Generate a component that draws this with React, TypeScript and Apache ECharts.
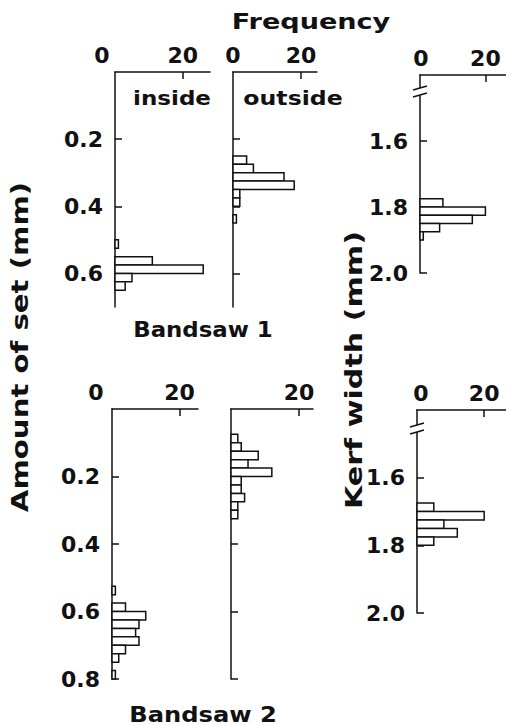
import React, { useEffect, useRef } from "react";
import * as echarts from "echarts";

// ---- data ----
const BIN_WIDTH = 0.025; // mm, histogram class width
const FREQ_TICK_LABELS = [0, 20];
const SET_TICKS_BANDSAW1 = [0.2, 0.4, 0.6];
const SET_TICKS_BANDSAW2 = [0.2, 0.4, 0.6, 0.8];
const KERF_TICKS = [1.6, 1.8, 2.0];

// Bandsaw 1 – amount of set, inside
const b1InsideBins = [0.5, 0.55, 0.575, 0.6, 0.625];
const b1InsideFreq = [1, 11, 26, 5, 3];
// Bandsaw 1 – amount of set, outside
const b1OutsideBins = [0.25, 0.275, 0.3, 0.325, 0.35, 0.375, 0.425];
const b1OutsideFreq = [4, 6, 15, 18, 2, 2, 1];
// Bandsaw 1 – kerf width
const b1KerfBins = [1.775, 1.8, 1.825, 1.85, 1.875];
const b1KerfFreq = [7, 20, 16, 6, 1];
// Bandsaw 2 – amount of set, inside
const b2InsideBins = [0.525, 0.575, 0.6, 0.625, 0.65, 0.675, 0.7, 0.725, 0.775];
const b2InsideFreq = [1, 4, 10, 8, 7, 8, 4, 2, 1];
// Bandsaw 2 – amount of set, outside
const b2OutsideBins = [0.075, 0.1, 0.125, 0.15, 0.175, 0.2, 0.225, 0.25, 0.275, 0.3];
const b2OutsideFreq = [2, 3, 8, 5, 12, 3, 3, 4, 2, 2];
// Bandsaw 2 – kerf width
const b2KerfBins = [1.675, 1.7, 1.725, 1.75, 1.775];
const b2KerfFreq = [5, 20, 8, 12, 5];

// ---- layout (not data) ----
const FONT = "DejaVu Sans";
const panels = [
  { bins: b1InsideBins, freq: b1InsideFreq, left: 115, top: 72, width: 95, height: 235, xMax: 28, yMin: 0, yMax: 0.7, ticks: SET_TICKS_BANDSAW1, yLabels: true, xLabels: FREQ_TICK_LABELS, zeroPad: [0, 26, 0, 0] },
  { bins: b1OutsideBins, freq: b1OutsideFreq, left: 233, top: 72, width: 84, height: 235, xMax: 24.7, yMin: 0, yMax: 0.7, ticks: SET_TICKS_BANDSAW1, yLabels: false, xLabels: FREQ_TICK_LABELS, zeroPad: [0, 0, 0, 0] },
  { bins: b1KerfBins, freq: b1KerfFreq, left: 420, top: 75, width: 88, height: 198, xMax: 26.3, yMin: 1.4, yMax: 2.0, ticks: KERF_TICKS, yLabels: true, xLabels: FREQ_TICK_LABELS, zeroPad: [0, 0, 0, 2] },
  { bins: b2InsideBins, freq: b2InsideFreq, left: 112, top: 409, width: 86, height: 270, xMax: 25.5, yMin: 0, yMax: 0.8, ticks: SET_TICKS_BANDSAW2, yLabels: true, xLabels: FREQ_TICK_LABELS, zeroPad: [0, 32, 0, 0] },
  { bins: b2OutsideBins, freq: b2OutsideFreq, left: 231, top: 409, width: 82, height: 270, xMax: 24.1, yMin: 0, yMax: 0.8, ticks: SET_TICKS_BANDSAW2, yLabels: false, xLabels: [20], zeroPad: [0, 0, 0, 0] },
  { bins: b2KerfBins, freq: b2KerfFreq, left: 417, top: 410, width: 90, height: 203, xMax: 26.5, yMin: 1.4, yMax: 2.0, ticks: KERF_TICKS, yLabels: true, xLabels: FREQ_TICK_LABELS, zeroPad: [0, 0, 0, 8] },
];

const numStyle = { fontFamily: FONT, fontWeight: "bold" as const, fontSize: 22, color: "#111" };
const axisLine = { show: true, lineStyle: { color: "#111", width: 1.5 } };

function buildOption() {
  const grid: any[] = [];
  const xAxis: any[] = [];
  const yAxis: any[] = [];
  const series: any[] = [];
  panels.forEach((p, i) => {
    grid.push({ left: p.left, top: p.top, width: p.width, height: p.height, containLabel: false });
    xAxis.push({
      type: "value",
      gridIndex: i,
      position: "top",
      min: 0,
      max: p.xMax,
      splitLine: { show: false },
      axisLine,
      axisTick: { show: true, inside: true, length: 7, customValues: [20], lineStyle: { color: "#111", width: 1.5 } },
      axisLabel: {
        show: true,
        customValues: p.xLabels,
        margin: 6,
        formatter: (v: number) => (v === 0 ? "{z|0}" : "{n|" + v + "}"),
        rich: {
          z: { ...numStyle, padding: p.zeroPad },
          n: { ...numStyle },
        },
      },
    });
    yAxis.push({
      type: "value",
      gridIndex: i,
      inverse: true,
      min: p.yMin,
      max: p.yMax,
      splitLine: { show: false },
      axisLine,
      axisTick: { show: true, inside: true, length: 7, customValues: p.ticks, lineStyle: { color: "#111", width: 1.5 } },
      axisLabel: {
        show: p.yLabels,
        customValues: p.ticks,
        margin: 12,
        ...numStyle,
        formatter: (v: number) => v.toFixed(1),
      },
    });
    series.push({
      type: "custom",
      xAxisIndex: i,
      yAxisIndex: i,
      encode: { x: 2, y: [0, 1] },
      data: p.bins.map((b, k) => [b, b + BIN_WIDTH, p.freq[k]]),
      renderItem: (params: any, api: any) => {
        const p0 = api.coord([0, api.value(0)]);
        const p1 = api.coord([api.value(2), api.value(1)]);
        return {
          type: "rect",
          shape: { x: p0[0], y: p0[1], width: p1[0] - p0[0], height: p1[1] - p0[1] },
          style: { fill: "#fff", stroke: "#111", lineWidth: 1.5 },
        };
      },
    });
  });

  const title = (text: string, x: number, y: number, size: number, sx: number, rot = 0) => ({
    type: "text",
    x,
    y,
    rotation: rot,
    scaleX: sx,
    style: {
      text,
      x: 0,
      y: 0,
      align: "center",
      verticalAlign: "middle",
      fontFamily: FONT,
      fontWeight: "bold",
      fontSize: size,
      fill: "#111",
    },
  });

  const brk = (x: number, y1: number, y2: number) => [
    { type: "rect", shape: { x: x - 2, y: y1, width: 4, height: y2 - y1 }, style: { fill: "#fff" }, z: 100 },
    { type: "line", shape: { x1: x - 7, y1: y1 + 2, x2: x + 7, y2: y1 - 2 }, style: { stroke: "#111", lineWidth: 1.5 }, z: 101 },
    { type: "line", shape: { x1: x - 7, y1: y2 + 2, x2: x + 7, y2: y2 - 2 }, style: { stroke: "#111", lineWidth: 1.5 }, z: 101 },
  ];

  const graphic = [
    title("Frequency", 311, 22, 21, 1.29),
    title("inside", 172, 98, 20, 1.15),
    title("outside", 293, 98, 20, 1.18),
    title("Bandsaw 1", 203, 329, 22, 1.04),
    title("Bandsaw 2", 203, 714, 22, 1.1),
    title("Amount of set (mm)", 20, 347, 23, 1.27, Math.PI / 2),
    title("Kerf width (mm)", 354, 370, 23, 1.31, Math.PI / 2),
    ...brk(420, 88, 95),
    ...brk(417, 425, 432),
  ];

  return { animation: false, backgroundColor: "#fff", grid, xAxis, yAxis, series, graphic };
}

export default function App() {
  const ref = useRef<HTMLDivElement>(null);
  useEffect(() => {
    if (!ref.current) return;
    const chart = echarts.init(ref.current, undefined, { renderer: "svg" });
    chart.setOption(buildOption());
    return () => chart.dispose();
  }, []);
  return (
    <div
      ref={ref}
      style={{ position: "fixed", left: 0, top: 0, width: 506, height: 725, background: "#fff" }}
    />
  );
}
